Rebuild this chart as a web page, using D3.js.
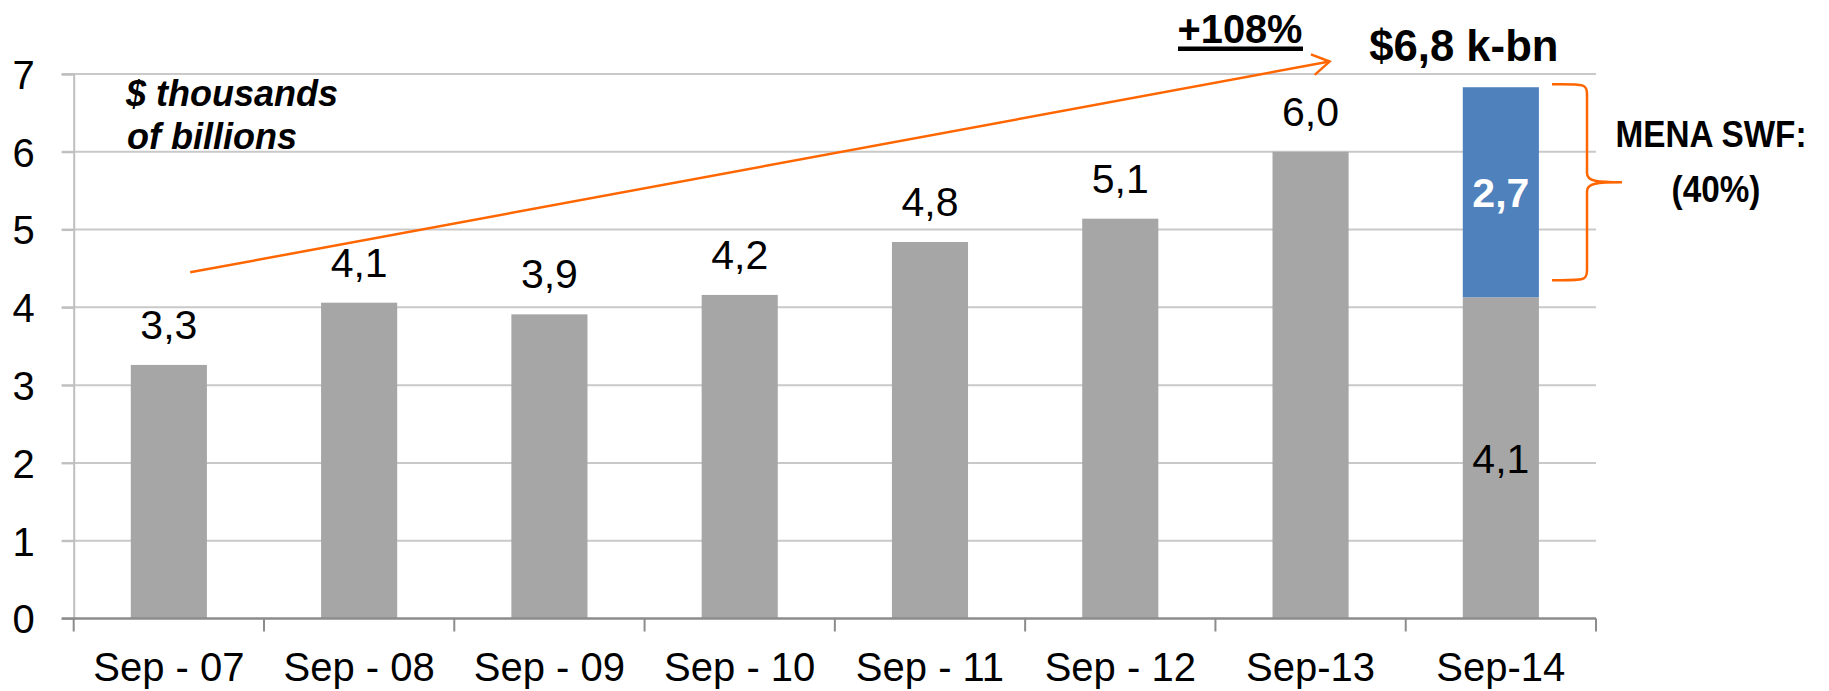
<html>
<head>
<meta charset="utf-8">
<script src="https://d3js.org/d3.v7.min.js"></script>
<style>
  body { margin: 0; background: #ffffff; }
  text { font-family: "Liberation Sans", Arial, sans-serif; }
</style>
</head>
<body>
<script>
  // data ($ thousands of billions)
  var categories = ["Sep - 07", "Sep - 08", "Sep - 09", "Sep - 10", "Sep - 11", "Sep - 12", "Sep-13", "Sep-14"];
  var otherValues = [3.26, 4.06, 3.91, 4.16, 4.84, 5.14, 6.00, 4.13];
  var menaValues = [0, 0, 0, 0, 0, 0, 0, 2.70];
  var yTicks = [0, 1, 2, 3, 4, 5, 6, 7];
  var growthLabel = "+108%";
  var menaLabel = ["MENA SWF:", "(40%)"];
  var unitLabel = ["$ thousands", "of billions"];

  var svgWidth = 1829, svgHeight = 691;

  var svg = d3.select("body").append("svg")
    .attr("width", svgWidth)
    .attr("height", svgHeight);

  var x = d3.scaleBand()
    .domain(categories)
    .range([73.7, 1596])
    .paddingInner(0.6)
    .paddingOuter(0.3);

  var y = d3.scaleLinear()
    .domain([0, 7])
    .range([618.5, 74]);

  var fmt = function(v) { return d3.format(".1f")(v).replace(".", ","); };

  // places a text, sx squeezes it horizontally when needed
  var addText = function(str, px, py, size, weight, anchor, color, style, sx) {
    return svg.append("text")
      .attr("transform", "translate(" + px + "," + py + ") scale(" + (sx || 1) + ",1)")
      .attr("text-anchor", anchor)
      .attr("font-size", size + "px")
      .attr("font-weight", weight)
      .attr("font-style", style || "normal")
      .style("fill", color)
      .text(str);
  }

  // gridlines
  svg.append("g").selectAll("line")
    .data(yTicks.filter(function(d) { return d > 0; }))
    .enter().append("line")
    .attr("x1", 61.7)
    .attr("x2", x.range()[1])
    .attr("y1", function(d) { return y(d); })
    .attr("y2", function(d) { return y(d); })
    .style("stroke", "#c9c9c9")
    .style("stroke-width", 2);

  // y axis
  var yAxis = svg.append("g")
    .attr("transform", "translate(" + x.range()[0] + ",0)")
    .call(d3.axisLeft(y).tickValues(yTicks).tickFormat(d3.format("d")).tickSize(12).tickPadding(27));
  yAxis.select(".domain").style("stroke", "#bfbfbf").style("stroke-width", 2);
  yAxis.selectAll(".tick line").style("stroke", "#bfbfbf").style("stroke-width", 2);
  yAxis.selectAll(".tick text")
    .attr("font-size", "40px")
    .attr("font-family", "Liberation Sans, Arial, sans-serif")
    .attr("dy", "0.36em")
    .style("fill", "#000");

  // bars
  svg.append("g").selectAll("rect")
    .data(categories)
    .enter().append("rect")
    .attr("x", function(d) { return x(d); })
    .attr("width", x.bandwidth())
    .attr("y", function(d, i) { return y(otherValues[i]); })
    .attr("height", function(d, i) { return y(0) - y(otherValues[i]); })
    .style("fill", "#a6a6a6");

  svg.append("g").selectAll("rect")
    .data(categories.filter(function(d, i) { return menaValues[i] > 0; }))
    .enter().append("rect")
    .attr("x", function(d) { return x(d); })
    .attr("width", x.bandwidth())
    .attr("y", function(d) { var i = categories.indexOf(d); return y(otherValues[i] + menaValues[i]); })
    .attr("height", function(d) { var i = categories.indexOf(d); return y(otherValues[i]) - y(otherValues[i] + menaValues[i]); })
    .style("fill", "#4f81bd");

  // x axis
  var step = x.step();
  var x0 = x.range()[0];
  svg.append("line")
    .attr("x1", 61.7).attr("x2", x.range()[1])
    .attr("y1", y(0)).attr("y2", y(0))
    .style("stroke", "#8c8c8c").style("stroke-width", 2.5);
  svg.append("g").selectAll("line")
    .data(d3.range(categories.length + 1))
    .enter().append("line")
    .attr("x1", function(d) { return x0 + d * step; })
    .attr("x2", function(d) { return x0 + d * step; })
    .attr("y1", y(0))
    .attr("y2", y(0) + 13)
    .style("stroke", "#8c8c8c").style("stroke-width", 2);

  categories.forEach(function(c) {
    addText(c, x(c) + x.bandwidth() / 2, 681, 40, "normal", "middle", "#000");
  });

  // value labels
  categories.forEach(function(c, i) {
    var cx = x(c) + x.bandwidth() / 2;
    if (menaValues[i] > 0) {
      addText(fmt(otherValues[i]), cx, (y(0) + y(otherValues[i])) / 2 + 15, 41, "normal", "middle", "#000");
      addText(fmt(menaValues[i]), cx, (y(otherValues[i]) + y(otherValues[i] + menaValues[i])) / 2 + 15, 41, "bold", "middle", "#fff");
      addText("$" + fmt(otherValues[i] + menaValues[i]) + " k-bn", cx - 37, 61, 45, "bold", "middle", "#000", "normal", 0.97);
    } else {
      addText(fmt(otherValues[i]), cx, y(otherValues[i]) - 26, 41, "normal", "middle", "#000");
    }
  });

  // unit note
  addText(unitLabel[0], 126, 106, 36, "bold", "start", "#000", "italic");
  addText(unitLabel[1], 127, 149, 36, "bold", "start", "#000", "italic");

  // growth arrow
  var ax1 = x(categories[0]) + x.bandwidth() * 0.78, ay1 = y(4.45);
  var ax2 = x(categories[6]) + x.bandwidth() * 0.75, ay2 = y(7.16);
  var ang = Math.atan2(ay2 - ay1, ax2 - ax1);
  svg.append("line")
    .attr("x1", ax1).attr("y1", ay1).attr("x2", ax2).attr("y2", ay2)
    .style("stroke", "#ff6600").style("stroke-width", 2.5);
  var head = 20, spread = 0.55;
  svg.append("path")
    .attr("d", "M" + (ax2 - head * Math.cos(ang - spread)) + "," + (ay2 - head * Math.sin(ang - spread)) +
      "L" + ax2 + "," + ay2 +
      "L" + (ax2 - head * Math.cos(ang + spread)) + "," + (ay2 - head * Math.sin(ang + spread)))
    .style("fill", "none").style("stroke", "#ff6600").style("stroke-width", 2.5);

  addText(growthLabel, 1240, 43, 41, "bold", "middle", "#000", "normal", 0.97);
  svg.append("rect")
    .attr("x", 1178).attr("y", 46.5).attr("width", 125).attr("height", 4.5)
    .style("fill", "#000");

  // brace next to the MENA part
  var last = categories.length - 1;
  var bTop = y(otherValues[last] + menaValues[last]) - 3;
  var bBot = y(otherValues[last]) - 17;
  var bMid = (bTop + bBot) / 2;
  var bx0 = 1552, bx1 = 1587, bx2 = 1622;
  svg.append("path")
    .attr("d", "M" + bx0 + "," + bTop +
      "C" + (bx1 - 4) + "," + bTop + " " + bx1 + "," + (bTop - 1) + " " + bx1 + "," + (bTop + 10) +
      "L" + bx1 + "," + (bMid - 9) +
      "C" + bx1 + "," + (bMid - 1) + " " + (bx1 + 10) + "," + bMid + " " + bx2 + "," + bMid +
      "C" + (bx1 + 10) + "," + bMid + " " + bx1 + "," + (bMid + 1) + " " + bx1 + "," + (bMid + 9) +
      "L" + bx1 + "," + (bBot - 10) +
      "C" + bx1 + "," + (bBot + 1) + " " + (bx1 - 4) + "," + bBot + " " + bx0 + "," + bBot)
    .style("fill", "none").style("stroke", "#ff6600").style("stroke-width", 2.5);

  addText(menaLabel[0], 1711, 147, 37, "bold", "middle", "#000", "normal", 0.9);
  addText(menaLabel[1], 1716, 202, 37, "bold", "middle", "#000", "normal", 0.9);
</script>
</body>
</html>
